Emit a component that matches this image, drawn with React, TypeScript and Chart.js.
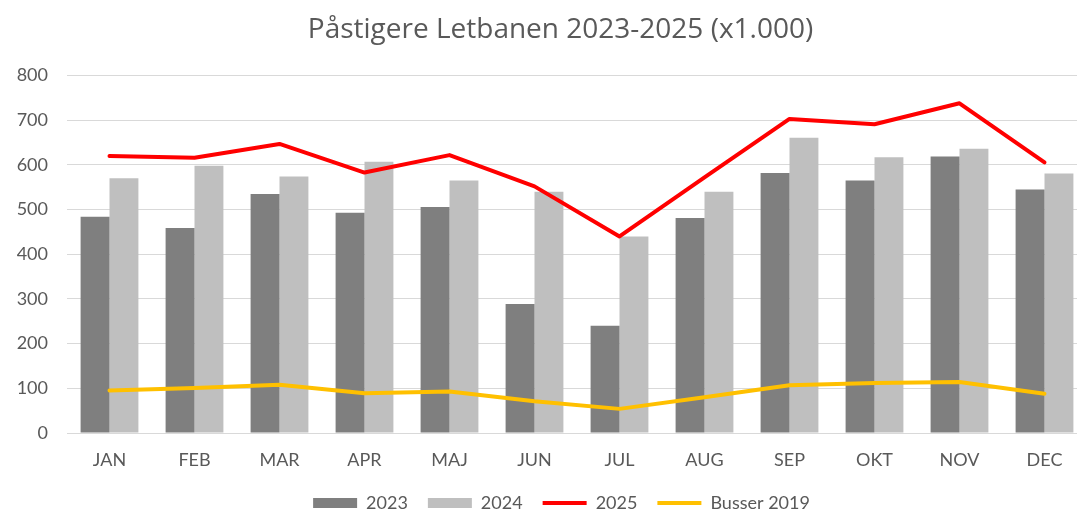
import React, { useEffect, useRef } from "react";
import { Chart, registerables } from "chart.js";

Chart.register(...registerables);

const categories = ["JAN", "FEB", "MAR", "APR", "MAJ", "JUN", "JUL", "AUG", "SEP", "OKT", "NOV", "DEC"];
const values2023 = [484, 459, 535, 493, 506, 289, 240, 481, 582, 565, 619, 545];
const values2024 = [570, 598, 574, 607, 565, 540, 440, 540, 661, 617, 636, 581];
const values2025 = [620, 616, 647, 583, 622, 552, 440, 572, 703, 691, 738, 606];
const busser2019 = [95, 101, 108, 89, 93, 71, 54, 80, 107, 112, 114, 88];
const yMin = 0;
const yMax = 800;
const yStep = 100;
const titleText = "Påstigere Letbanen 2023-2025 (x1.000)";

const TEXT = "#595959";
const FONT = "Lato";

const shiftBlocks = {
  id: "shiftBlocks",
  afterLayout(chart: any) {
    const t = chart.titleBlock;
    if (t) {
      t.left += 11;
      t.right += 11;
    }
    const l = chart.legend;
    if (l) {
      l.left += 12;
      l.right += 12;
    }
  },
};

export default function App() {
  const ref = useRef<HTMLCanvasElement | null>(null);

  useEffect(() => {
    if (!ref.current) return;
    const chart = new Chart(ref.current, {
      type: "bar",
      data: {
        labels: categories,
        datasets: [
          { type: "bar", label: "2023", data: values2023, backgroundColor: "#7F7F7F", order: 2, categoryPercentage: 0.68, barPercentage: 1 } as any,
          { type: "bar", label: "2024", data: values2024, backgroundColor: "#BFBFBF", order: 2, categoryPercentage: 0.68, barPercentage: 1 } as any,
          { type: "line", label: "2025", data: values2025, borderColor: "#FF0000", backgroundColor: "#FF0000", borderWidth: 4, pointRadius: 0, tension: 0, order: 1, borderCapStyle: "round", borderJoinStyle: "round" } as any,
          { type: "line", label: "Busser 2019", data: busser2019, borderColor: "#FFC000", backgroundColor: "#FFC000", borderWidth: 4, pointRadius: 0, tension: 0, order: 1, borderCapStyle: "round", borderJoinStyle: "round" } as any,
        ],
      },
      options: {
        responsive: false,
        animation: false,
        devicePixelRatio: 1,
        layout: { padding: { left: 12, right: 3, top: 0, bottom: -7 } },
        scales: {
          x: {
            offset: true,
            grid: { display: false },
            border: { display: false },
            ticks: { color: TEXT, font: { family: FONT, size: 18 }, padding: 8 },
            afterFit: (s: any) => { s.height = 41; },
          },
          y: {
            min: yMin,
            max: yMax,
            grid: { color: "#D9D9D9", drawTicks: false, lineWidth: 1 },
            border: { display: false },
            ticks: { stepSize: yStep, color: TEXT, font: { family: FONT, size: 18 }, padding: 19 },
            afterFit: (s: any) => { s.width = 55; },
          },
        },
        plugins: {
          title: {
            display: true,
            text: titleText,
            color: TEXT,
            font: { family: "Open Sans", size: 28, weight: "normal" },
            padding: { top: 13, bottom: 29 },
          },
          legend: {
            position: "bottom",
            labels: {
              usePointStyle: true,
              pointStyleWidth: 44,
              boxHeight: 10,
              color: TEXT,
              font: { family: FONT, size: 18 },
              padding: 20,
              generateLabels: (c: any) =>
                c.data.datasets.map((ds: any, i: number) => {
                  const isLine = ds.type === "line";
                  return {
                    text: ds.label,
                    fillStyle: ds.backgroundColor,
                    strokeStyle: ds.borderColor || ds.backgroundColor,
                    lineWidth: isLine ? 4 : 0,
                    pointStyle: isLine ? "line" : "rect",
                    lineCap: "butt",
                    hidden: false,
                    datasetIndex: i,
                    fontColor: TEXT,
                  };
                }),
            },
          },
          tooltip: { enabled: false },
        },
      },
      plugins: [shiftBlocks],
    });
    return () => chart.destroy();
  }, []);

  return (
    <div style={{ position: "fixed", left: 0, top: 0, width: 1077, height: 515, overflow: "hidden", background: "#fff" }}>
      <canvas ref={ref} width={1090} height={515} style={{ display: "block" }} />
    </div>
  );
}
